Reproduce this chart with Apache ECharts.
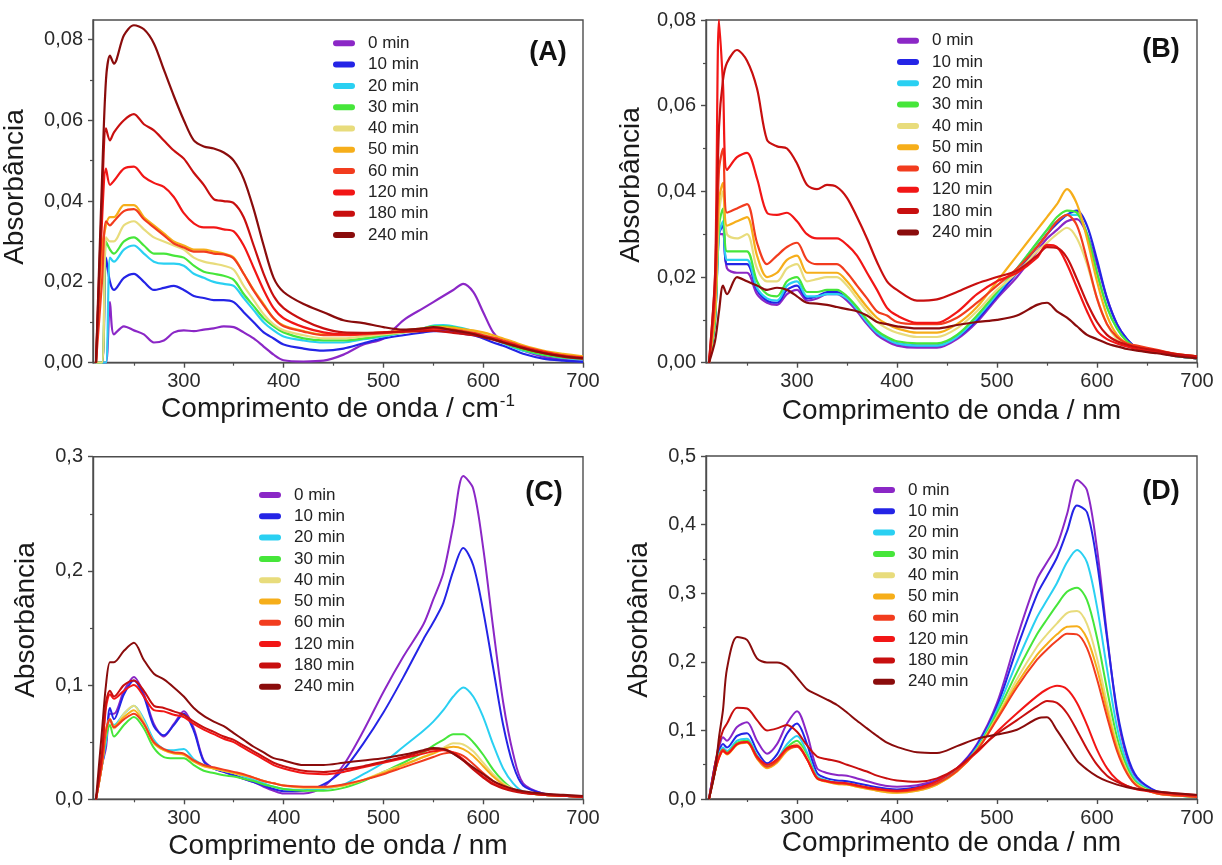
<!DOCTYPE html>
<html><head><meta charset="utf-8">
<script src="https://cdn.jsdelivr.net/npm/echarts@6/dist/echarts.min.js"></script>
<style>html,body{margin:0;padding:0;background:#fff}#c{width:1222px;height:865px}</style>
</head><body><div id="c"></div>
<script>
// ---------------- DATA ----------------
const wavelength = [212,218,222,226,230,240,250,260,270,280,290,300,310,320,330,340,350,360,370,380,390,400,420,440,460,480,500,520,540,550,560,570,580,590,600,610,620,630,640,660,680,700];
const seriesNames = ['0 min','10 min','20 min','30 min','40 min','50 min','60 min','120 min','180 min','240 min'];
const seriesColors = ['#8b27c6','#2424e6','#2ad0f2','#46e63a','#e8dc7c','#f6ae1a','#f23c1e','#f21616','#c80f0f','#8a0c0c'];

const panelA = [
 [0,0,0,0.015,0.007,0.009,0.008,0.007,0.005,0.0055,0.0075,0.008,0.0078,0.0082,0.0085,0.009,0.0088,0.0075,0.006,0.004,0.002,0.0006,0.0003,0.0005,0.002,0.0045,0.006,0.0105,0.0135,0.015,0.0165,0.018,0.0195,0.0175,0.0125,0.0075,0.005,0.004,0.003,0.0015,0.0008,0.0003],
 [0,0,0.026,0.02,0.018,0.021,0.022,0.02,0.018,0.0185,0.019,0.018,0.0165,0.016,0.0155,0.0155,0.015,0.0125,0.01,0.0075,0.006,0.0045,0.0035,0.003,0.0035,0.0048,0.006,0.0068,0.0075,0.0078,0.0078,0.0076,0.0072,0.0068,0.006,0.005,0.0042,0.0032,0.0022,0.001,0.0005,0.0002],
 [0,0,0,0.026,0.025,0.028,0.029,0.027,0.025,0.0245,0.0245,0.024,0.022,0.021,0.02,0.0195,0.019,0.016,0.013,0.01,0.008,0.0065,0.0055,0.005,0.005,0.0058,0.0065,0.0075,0.0085,0.0092,0.0093,0.009,0.0085,0.0078,0.0068,0.0058,0.0048,0.0038,0.003,0.002,0.0012,0.0008],
 [0,0,0.03,0.028,0.027,0.03,0.031,0.029,0.027,0.027,0.0265,0.026,0.024,0.0225,0.022,0.0215,0.0205,0.017,0.014,0.011,0.009,0.0075,0.006,0.0055,0.0055,0.006,0.0068,0.0075,0.0085,0.009,0.009,0.0088,0.0083,0.0077,0.007,0.006,0.005,0.004,0.0032,0.002,0.0013,0.001],
 [0,0,0.031,0.03,0.03,0.034,0.035,0.033,0.031,0.03,0.029,0.028,0.026,0.025,0.0245,0.024,0.023,0.019,0.0155,0.012,0.0095,0.008,0.0068,0.006,0.006,0.0065,0.007,0.0075,0.008,0.0085,0.0085,0.0083,0.008,0.0076,0.007,0.0062,0.0053,0.0045,0.0037,0.0025,0.0018,0.0012],
 [0,0.028,0.034,0.036,0.036,0.039,0.039,0.036,0.034,0.032,0.03,0.029,0.028,0.028,0.0275,0.027,0.026,0.022,0.018,0.0145,0.011,0.0092,0.0078,0.007,0.007,0.0072,0.0075,0.008,0.0085,0.0088,0.0088,0.0086,0.0083,0.008,0.0075,0.0068,0.006,0.0052,0.0043,0.003,0.0022,0.0016],
 [0,0.02,0.035,0.034,0.035,0.0375,0.038,0.0355,0.0335,0.0315,0.0295,0.0285,0.0275,0.0275,0.027,0.0268,0.0258,0.022,0.0178,0.0142,0.011,0.009,0.0077,0.0068,0.0068,0.007,0.0073,0.0077,0.0082,0.0084,0.0084,0.0082,0.0078,0.0074,0.0068,0.0062,0.0055,0.0048,0.004,0.0028,0.0018,0.0013],
 [0,0.035,0.048,0.044,0.045,0.048,0.0485,0.046,0.0445,0.0435,0.041,0.037,0.0345,0.0335,0.0335,0.033,0.0325,0.029,0.0235,0.018,0.0135,0.011,0.0088,0.0075,0.007,0.0072,0.0075,0.0078,0.0083,0.0085,0.0083,0.008,0.0076,0.0072,0.0066,0.006,0.0052,0.0045,0.0038,0.0026,0.0017,0.0012],
 [0,0.04,0.058,0.055,0.057,0.06,0.0615,0.059,0.0575,0.055,0.0525,0.0505,0.047,0.044,0.0405,0.04,0.0395,0.036,0.029,0.022,0.0165,0.0135,0.0105,0.0085,0.0075,0.0074,0.0075,0.0077,0.0078,0.0079,0.0077,0.0074,0.0071,0.0068,0.0063,0.0057,0.005,0.0043,0.0036,0.0024,0.0015,0.001],
 [0,0.045,0.07,0.076,0.074,0.081,0.0835,0.0825,0.079,0.0725,0.066,0.06,0.055,0.0535,0.053,0.052,0.05,0.0455,0.038,0.029,0.021,0.0175,0.0145,0.0125,0.0105,0.0098,0.0088,0.0082,0.0085,0.0088,0.0085,0.008,0.0076,0.0071,0.0064,0.0058,0.005,0.0043,0.0036,0.0024,0.0016,0.0011]
];
const panelB = [
 [0,0.01,0.03,0.03,0.022,0.021,0.021,0.016,0.014,0.0135,0.016,0.017,0.0145,0.015,0.016,0.016,0.0145,0.012,0.009,0.0065,0.005,0.004,0.0035,0.0035,0.0055,0.0095,0.015,0.02,0.026,0.029,0.031,0.033,0.0335,0.03,0.023,0.015,0.009,0.0055,0.0035,0.0025,0.0015,0.001],
 [0,0.01,0.03,0.032,0.023,0.023,0.023,0.017,0.0145,0.014,0.017,0.018,0.015,0.0155,0.0165,0.0165,0.015,0.0125,0.0095,0.007,0.0055,0.0045,0.004,0.004,0.006,0.01,0.0155,0.021,0.027,0.03,0.0325,0.0345,0.0355,0.032,0.024,0.015,0.009,0.0055,0.0035,0.0025,0.0015,0.001],
 [0,0.01,0.03,0.033,0.024,0.024,0.024,0.0175,0.015,0.0145,0.018,0.019,0.0155,0.0155,0.016,0.016,0.015,0.0125,0.0095,0.007,0.0055,0.0045,0.004,0.004,0.006,0.0105,0.016,0.022,0.028,0.031,0.033,0.0345,0.0345,0.03,0.021,0.013,0.008,0.005,0.0035,0.0025,0.0015,0.001],
 [0,0.01,0.032,0.036,0.026,0.026,0.026,0.019,0.016,0.0155,0.019,0.02,0.0165,0.0165,0.017,0.017,0.0155,0.013,0.01,0.0075,0.006,0.005,0.0045,0.0045,0.0065,0.011,0.0165,0.022,0.028,0.031,0.034,0.0355,0.035,0.03,0.021,0.013,0.008,0.005,0.0035,0.0025,0.0015,0.001],
 [0,0.012,0.035,0.04,0.03,0.029,0.03,0.022,0.019,0.019,0.022,0.023,0.019,0.0195,0.02,0.02,0.018,0.015,0.012,0.0095,0.008,0.007,0.006,0.006,0.008,0.012,0.017,0.021,0.026,0.028,0.03,0.0315,0.029,0.023,0.015,0.009,0.0055,0.004,0.0033,0.0025,0.0018,0.0013],
 [0,0.012,0.038,0.042,0.032,0.033,0.034,0.025,0.02,0.021,0.024,0.025,0.021,0.021,0.021,0.021,0.019,0.016,0.013,0.0105,0.009,0.008,0.007,0.007,0.009,0.013,0.019,0.025,0.031,0.034,0.037,0.0405,0.037,0.029,0.019,0.011,0.0065,0.0045,0.0037,0.0028,0.002,0.0015],
 [0,0.015,0.045,0.05,0.035,0.036,0.037,0.028,0.023,0.025,0.027,0.028,0.024,0.023,0.023,0.023,0.021,0.018,0.015,0.012,0.011,0.0095,0.009,0.009,0.0105,0.014,0.018,0.022,0.027,0.03,0.033,0.0345,0.032,0.024,0.015,0.009,0.006,0.0045,0.004,0.003,0.002,0.0015],
 [0,0.02,0.08,0.065,0.045,0.048,0.049,0.043,0.035,0.0345,0.035,0.033,0.03,0.029,0.029,0.029,0.0275,0.025,0.021,0.017,0.0128,0.011,0.0093,0.0093,0.0118,0.016,0.019,0.021,0.0245,0.0275,0.027,0.023,0.0175,0.012,0.0075,0.0055,0.0045,0.0038,0.0032,0.0025,0.0018,0.0013],
 [0,0.02,0.055,0.066,0.07,0.073,0.0705,0.064,0.052,0.0505,0.05,0.0465,0.0415,0.0405,0.0415,0.041,0.0385,0.034,0.029,0.0235,0.019,0.017,0.0145,0.0148,0.0165,0.0185,0.02,0.0215,0.025,0.027,0.0268,0.0245,0.0195,0.014,0.0095,0.0065,0.005,0.0042,0.0036,0.0028,0.002,0.0015],
 [0,0.005,0.012,0.018,0.016,0.02,0.019,0.018,0.017,0.0175,0.017,0.0155,0.014,0.0138,0.0135,0.013,0.0125,0.012,0.011,0.0095,0.009,0.0085,0.008,0.008,0.0088,0.0095,0.01,0.011,0.0135,0.014,0.012,0.0105,0.0085,0.0065,0.0055,0.0045,0.0038,0.0032,0.0028,0.0022,0.0015,0.001]
];
const panelC = [
 [0,0.03,0.045,0.075,0.075,0.095,0.107,0.092,0.066,0.055,0.066,0.077,0.062,0.034,0.027,0.024,0.021,0.018,0.015,0.011,0.0075,0.005,0.005,0.011,0.03,0.06,0.094,0.125,0.153,0.175,0.198,0.24,0.283,0.272,0.22,0.15,0.085,0.04,0.014,0.005,0.003,0.002],
 [0,0.03,0.05,0.08,0.07,0.092,0.104,0.09,0.064,0.056,0.065,0.075,0.06,0.033,0.027,0.024,0.021,0.018,0.015,0.012,0.009,0.007,0.0075,0.013,0.026,0.049,0.076,0.107,0.14,0.155,0.172,0.2,0.22,0.205,0.165,0.115,0.065,0.03,0.012,0.005,0.003,0.002],
 [0,0.03,0.05,0.07,0.065,0.075,0.082,0.07,0.052,0.044,0.043,0.044,0.035,0.03,0.027,0.025,0.023,0.02,0.017,0.014,0.011,0.009,0.008,0.009,0.013,0.022,0.032,0.046,0.06,0.068,0.078,0.09,0.098,0.09,0.072,0.048,0.027,0.014,0.007,0.004,0.003,0.002],
 [0,0.03,0.055,0.065,0.055,0.065,0.072,0.062,0.045,0.037,0.036,0.036,0.03,0.025,0.023,0.021,0.02,0.018,0.016,0.013,0.011,0.009,0.0075,0.0075,0.01,0.016,0.024,0.032,0.041,0.047,0.052,0.057,0.057,0.05,0.039,0.026,0.016,0.009,0.006,0.004,0.003,0.002],
 [0,0.03,0.06,0.07,0.062,0.075,0.082,0.068,0.05,0.043,0.041,0.04,0.034,0.029,0.027,0.025,0.023,0.021,0.019,0.016,0.014,0.012,0.01,0.01,0.012,0.017,0.024,0.03,0.037,0.041,0.045,0.049,0.048,0.042,0.032,0.022,0.014,0.009,0.006,0.004,0.003,0.002],
 [0,0.03,0.06,0.07,0.064,0.072,0.078,0.066,0.049,0.043,0.04,0.039,0.033,0.029,0.027,0.025,0.023,0.021,0.019,0.016,0.014,0.012,0.0105,0.0105,0.012,0.017,0.023,0.03,0.037,0.04,0.044,0.046,0.044,0.038,0.029,0.02,0.013,0.008,0.006,0.004,0.003,0.002],
 [0,0.03,0.06,0.07,0.063,0.07,0.075,0.066,0.05,0.044,0.041,0.04,0.034,0.03,0.028,0.026,0.024,0.022,0.019,0.016,0.014,0.012,0.011,0.011,0.013,0.017,0.022,0.028,0.034,0.037,0.04,0.041,0.038,0.031,0.023,0.016,0.011,0.008,0.006,0.004,0.003,0.002],
 [0,0.04,0.08,0.092,0.088,0.095,0.1,0.09,0.078,0.077,0.074,0.072,0.066,0.061,0.057,0.053,0.05,0.045,0.04,0.035,0.03,0.027,0.023,0.022,0.024,0.028,0.032,0.036,0.04,0.042,0.043,0.041,0.035,0.027,0.02,0.014,0.01,0.008,0.006,0.004,0.003,0.002],
 [0,0.04,0.085,0.095,0.09,0.1,0.104,0.095,0.082,0.08,0.077,0.074,0.068,0.063,0.059,0.055,0.052,0.047,0.042,0.037,0.032,0.029,0.025,0.024,0.026,0.029,0.033,0.037,0.042,0.044,0.044,0.04,0.034,0.026,0.019,0.013,0.0095,0.007,0.0055,0.004,0.003,0.002],
 [0,0.06,0.1,0.12,0.12,0.13,0.137,0.122,0.11,0.105,0.098,0.09,0.08,0.073,0.068,0.064,0.058,0.052,0.046,0.041,0.036,0.034,0.03,0.03,0.032,0.034,0.036,0.039,0.043,0.045,0.044,0.04,0.034,0.028,0.022,0.016,0.012,0.009,0.007,0.005,0.004,0.003]
];
const panelD = [
 [0,0.05,0.075,0.09,0.085,0.105,0.112,0.085,0.066,0.08,0.11,0.128,0.095,0.045,0.038,0.035,0.034,0.03,0.026,0.022,0.019,0.018,0.02,0.028,0.045,0.08,0.14,0.235,0.32,0.345,0.37,0.415,0.465,0.45,0.365,0.24,0.125,0.06,0.03,0.01,0.006,0.004],
 [0,0.05,0.07,0.08,0.075,0.092,0.096,0.07,0.052,0.065,0.095,0.11,0.08,0.038,0.03,0.027,0.026,0.023,0.02,0.017,0.015,0.014,0.017,0.026,0.044,0.078,0.135,0.22,0.298,0.325,0.352,0.39,0.428,0.418,0.345,0.235,0.13,0.065,0.032,0.011,0.006,0.004],
 [0,0.04,0.065,0.075,0.07,0.085,0.088,0.064,0.048,0.058,0.08,0.092,0.068,0.033,0.027,0.024,0.023,0.02,0.017,0.014,0.012,0.011,0.014,0.023,0.042,0.075,0.13,0.2,0.265,0.29,0.315,0.345,0.363,0.345,0.28,0.19,0.105,0.052,0.026,0.009,0.005,0.003],
 [0,0.04,0.063,0.072,0.068,0.082,0.085,0.062,0.047,0.056,0.075,0.085,0.063,0.031,0.026,0.023,0.022,0.019,0.016,0.013,0.011,0.01,0.013,0.022,0.041,0.073,0.125,0.185,0.24,0.262,0.283,0.302,0.308,0.29,0.235,0.16,0.09,0.046,0.023,0.009,0.005,0.003],
 [0,0.04,0.06,0.07,0.066,0.08,0.083,0.06,0.046,0.054,0.072,0.08,0.06,0.03,0.025,0.022,0.021,0.018,0.015,0.012,0.01,0.009,0.012,0.021,0.04,0.072,0.12,0.175,0.222,0.24,0.256,0.271,0.274,0.255,0.205,0.14,0.08,0.041,0.021,0.008,0.005,0.003],
 [0,0.04,0.06,0.07,0.065,0.079,0.082,0.059,0.045,0.053,0.07,0.077,0.058,0.03,0.025,0.022,0.021,0.018,0.015,0.012,0.01,0.009,0.012,0.021,0.04,0.071,0.118,0.168,0.21,0.226,0.24,0.251,0.252,0.234,0.19,0.13,0.075,0.039,0.02,0.008,0.005,0.003],
 [0,0.04,0.062,0.072,0.067,0.08,0.083,0.06,0.047,0.055,0.072,0.076,0.058,0.031,0.026,0.023,0.022,0.019,0.016,0.014,0.012,0.011,0.014,0.023,0.041,0.071,0.116,0.163,0.203,0.218,0.231,0.241,0.24,0.22,0.175,0.12,0.07,0.037,0.019,0.008,0.005,0.003],
 [0,0.04,0.06,0.07,0.066,0.08,0.083,0.062,0.05,0.058,0.074,0.078,0.058,0.03,0.026,0.024,0.023,0.02,0.017,0.015,0.013,0.012,0.016,0.026,0.045,0.068,0.098,0.125,0.15,0.16,0.165,0.16,0.14,0.108,0.072,0.045,0.028,0.019,0.014,0.01,0.007,0.005],
 [0,0.05,0.08,0.1,0.11,0.133,0.132,0.115,0.1,0.103,0.108,0.098,0.078,0.062,0.058,0.055,0.05,0.045,0.04,0.034,0.03,0.027,0.025,0.03,0.045,0.07,0.095,0.115,0.135,0.143,0.14,0.125,0.1,0.073,0.05,0.034,0.025,0.019,0.015,0.011,0.008,0.006],
 [0,0.04,0.09,0.13,0.19,0.236,0.232,0.205,0.199,0.199,0.193,0.177,0.16,0.152,0.145,0.137,0.126,0.114,0.103,0.092,0.082,0.076,0.068,0.067,0.077,0.088,0.094,0.101,0.117,0.119,0.1,0.078,0.056,0.043,0.033,0.026,0.021,0.017,0.0145,0.011,0.008,0.006]
];

const xTickValues = [300,400,500,600,700];
const xMinorValues = [250,350,450,550,650];
const yTicksAB = [0,0.02,0.04,0.06,0.08];
const yMinorAB = [0.01,0.03,0.05,0.07];
const yTicksC = [0,0.1,0.2,0.3];
const yMinorC = [0.05,0.15,0.25];
const yTicksD = [0,0.1,0.2,0.3,0.4,0.5];
const yMinorD = [0.05,0.15,0.25,0.35,0.45];

// ---------------- LAYOUT ----------------
const FONT = '"Liberation Sans", Arial, sans-serif';
const AX = '#4d4d4d';
const panels = [
  {data: panelA, grid: {left: 93, top: 20, width: 490, height: 342.7}, ymax: 0.0848, ticks: yTicksAB, minor: yMinorAB, dec: 2,
   legend: {left: 328, top: 29.8}, tag: '(A)', tagPos: [548, 53],
   xt: {x: 338, y: 409, unit: 'cm'}, yt: {x: 15, y: 187}},
  {data: panelB, grid: {left: 706, top: 20, width: 491, height: 342.7}, ymax: 0.08, ticks: yTicksAB, minor: yMinorAB, dec: 2,
   legend: {left: 892, top: 27.2}, tag: '(B)', tagPos: [1161, 50],
   xt: {x: 951.5, y: 411, unit: 'nm'}, yt: {x: 631, y: 185}},
  {data: panelC, grid: {left: 93, top: 456.7, width: 490, height: 342.6}, ymax: 0.3, ticks: yTicksC, minor: yMinorC, dec: 1,
   legend: {left: 254, top: 481.5}, tag: '(C)', tagPos: [544, 493],
   xt: {x: 338, y: 846, unit: 'nm'}, yt: {x: 26, y: 620}},
  {data: panelD, grid: {left: 706, top: 456, width: 491, height: 343}, ymax: 0.5, ticks: yTicksD, minor: yMinorD, dec: 1,
   legend: {left: 868, top: 476.5}, tag: '(D)', tagPos: [1161, 492],
   xt: {x: 951.5, y: 843, unit: 'nm'}, yt: {x: 639, y: 620}}
];

const grid = [], xAxis = [], yAxis = [], series = [], legend = [], graphic = [];
const capsule = 'path://M3,0L19,0A3,3,0,0,1,19,6L3,6A3,3,0,0,1,3,0Z';

panels.forEach((p, i) => {
  grid.push(Object.assign({show: true, borderColor: AX, borderWidth: 1.4, backgroundColor: 'transparent'}, p.grid));
  xAxis.push({
    gridIndex: i, type: 'value', min: 209, max: 700, position: 'bottom',
    axisLine: {show: true, lineStyle: {color: AX, width: 1.4}},
    axisTick: {show: true, inside: false, length: 5, customValues: xTickValues, lineStyle: {color: AX, width: 1.4}},
    axisLabel: {show: true, customValues: xTickValues, margin: 9, fontSize: 20, color: '#2a2a2a', fontFamily: FONT},
    splitLine: {show: false}
  });
  xAxis.push({
    gridIndex: i, type: 'value', min: 209, max: 700, position: 'bottom', offset: 0,
    axisLine: {show: false},
    axisTick: {show: true, inside: false, length: 3, customValues: xMinorValues, lineStyle: {color: AX, width: 1.2}},
    axisLabel: {show: false}, splitLine: {show: false}
  });
  yAxis.push({
    gridIndex: i, type: 'value', min: 0, max: p.ymax, position: 'left',
    axisLine: {show: true, lineStyle: {color: AX, width: 1.4}},
    axisTick: {show: true, inside: false, length: 5, customValues: p.ticks, lineStyle: {color: AX, width: 1.4}},
    axisLabel: {show: true, customValues: p.ticks, margin: 10, fontSize: 20, color: '#2a2a2a', fontFamily: FONT,
      formatter: v => Number(v).toFixed(p.dec).replace('.', ',')},
    splitLine: {show: false}
  });
  yAxis.push({
    gridIndex: i, type: 'value', min: 0, max: p.ymax, position: 'left', offset: 0,
    axisLine: {show: false},
    axisTick: {show: true, inside: false, length: 3, customValues: p.minor, lineStyle: {color: AX, width: 1.2}},
    axisLabel: {show: false}, splitLine: {show: false}
  });
  p.data.forEach((vals, k) => {
    series.push({
      name: seriesNames[k], type: 'line', xAxisIndex: 2 * i, yAxisIndex: 2 * i,
      data: wavelength.map((w, j) => [w, vals[j]]),
      showSymbol: false, symbol: 'none', smooth: 0.3, color: seriesColors[k],
      lineStyle: {color: seriesColors[k], width: i < 2 ? 2.2 : 2},
      silent: true, animation: false, clip: true
    });
  });
  legend.push({
    data: seriesNames, orient: 'vertical', left: p.legend.left, top: p.legend.top,
    icon: capsule, itemWidth: 22, itemHeight: 6, itemGap: 4.3, selectedMode: false,
    textStyle: {fontSize: 17, lineHeight: 17, color: '#222', fontFamily: FONT, padding: [0, 0, 0, 8]}
  });
  graphic.push({type: 'text', x: p.tagPos[0], y: p.tagPos[1],
    style: {text: p.tag, fontSize: 27, fontWeight: 'bold', fill: '#111', fontFamily: FONT, align: 'center', verticalAlign: 'middle'}});
  const xtText = p.xt.unit === 'cm' ? '{a|Comprimento de onda / cm}{s|-1}' : '{a|Comprimento de onda / nm}';
  graphic.push({type: 'text', x: p.xt.x, y: p.xt.y,
    style: {text: xtText, align: 'center', verticalAlign: 'middle', fill: '#1a1a1a', fontFamily: FONT,
      rich: {a: {fontSize: 28, fontFamily: FONT, fill: '#1a1a1a'}, s: {fontSize: 17, fontFamily: FONT, fill: '#1a1a1a', padding: [0, 0, 16, 1]}}}});
  graphic.push({type: 'text', x: p.yt.x, y: p.yt.y, rotation: Math.PI / 2,
    style: {text: 'Absorbância', fontSize: 28, fill: '#1a1a1a', fontFamily: FONT, align: 'center', verticalAlign: 'middle'}});
});

const chart = echarts.init(document.getElementById('c'), null, {renderer: 'canvas'});
chart.setOption({backgroundColor: '#fff', animation: false, grid, xAxis, yAxis, series, legend, graphic});
</script></body></html>
